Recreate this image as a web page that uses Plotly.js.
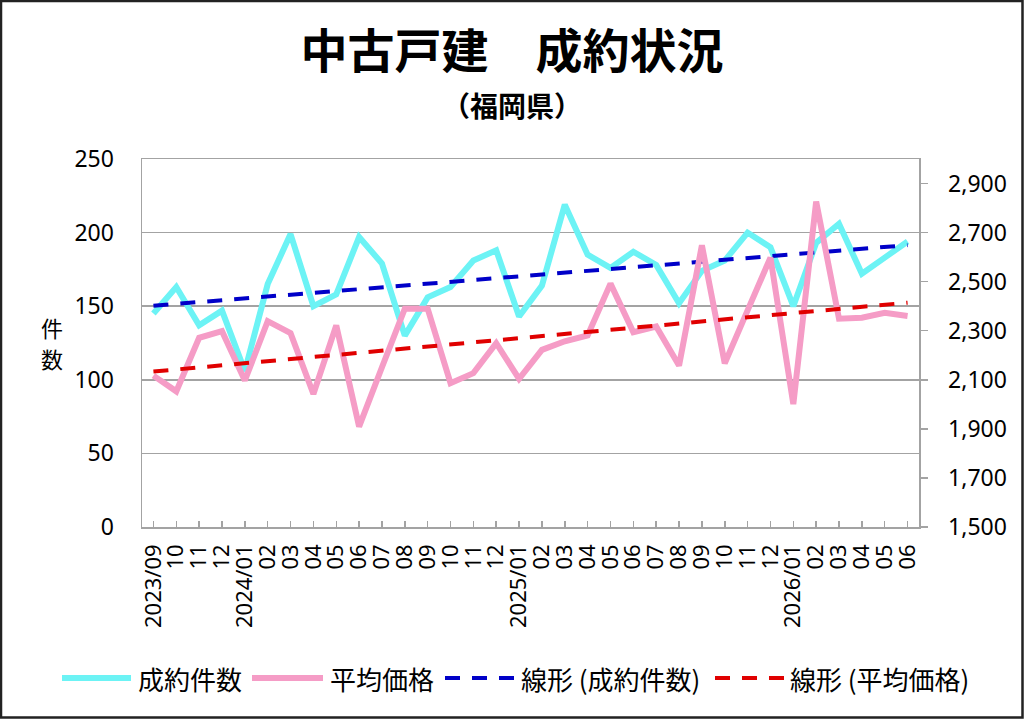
<!DOCTYPE html>
<html>
<head>
<meta charset="utf-8">
<script src="https://cdn.plot.ly/plotly-3.0.1.min.js"></script>
<style>
html,body{margin:0;padding:0;background:#fff;overflow:hidden;}
#chart{width:1024px;height:719px;}
</style>
</head>
<body>
<div id="chart"></div>
<script>
// ---- data ----
const monthLabels = ["2023/09","10","11","12","2024/01","02","03","04","05","06","07","08","09","10","11","12",
  "2025/01","02","03","04","05","06","07","08","09","10","11","12","2026/01","02","03","04","05","06"];
const contractCount = [145,163,137,147,106,165,199,150,158,197,179,130,156,163,181,188,143,
  164,219,185,176,187,178,152,174,181,200,190,150,193,206,172,183,194];
const avgPrice = [2117,2053,2271,2298,2097,2339,2290,2042,2322,1909,2151,2390,2390,2086,2127,2249,2104,
  2222,2257,2281,2492,2294,2317,2158,2648,2167,2383,2598,2001,2826,2349,2353,2373,2360];
const seriesNames = ["成約件数","平均価格","線形 (成約件数)","線形 (平均価格)"];
const leftTicks = [0,50,100,150,200,250];
const rightTicks = [1500,1700,1900,2100,2300,2500,2700,2900];

// ---- helpers ----
const idx = monthLabels.map((_, i) => i);
function linearFit(ys){
  const n = ys.length;
  const xs = ys.map((_, i) => i);
  const mx = xs.reduce((a,b)=>a+b,0)/n;
  const my = ys.reduce((a,b)=>a+b,0)/n;
  let sxy = 0, sxx = 0;
  for (let i=0;i<n;i++){ sxy += (xs[i]-mx)*(ys[i]-my); sxx += (xs[i]-mx)*(xs[i]-mx); }
  const b = sxy/sxx, a = my - b*mx;
  return xs.map(x => a + b*x);
}
const countTrend = linearFit(contractCount);
const priceTrend = linearFit(avgPrice);

const W = 1024, H = 719, ML = 142, MR = 105, MT = 159, MB = 192;
const PW = W-ML-MR, PH = H-MT-MB;
const px = x => (x-ML)/PW;
const py = y => (H-MB-y)/PH;

const LAT = "'Noto Sans', 'Noto Sans CJK JP', sans-serif";
const CJK = "'Noto Sans CJK JP', 'Noto Sans', sans-serif";
const GRID = '#a3a3a3';
const C_CYAN = '#6cf3f5', C_PINK = '#f59cc6', C_BLUE = '#0000c8', C_RED = '#e00000';

const traces = [
  {x: idx, y: contractCount, type:'scatter', mode:'lines', name: seriesNames[0],
   line:{color:C_CYAN, width:6}, yaxis:'y'},
  {x: idx, y: countTrend, type:'scatter', mode:'lines', name: seriesNames[2],
   line:{color:C_BLUE, width:4, dash:'15px,12px'}, yaxis:'y'},
  {x: idx, y: avgPrice, type:'scatter', mode:'lines', name: seriesNames[1],
   line:{color:C_PINK, width:6}, yaxis:'y2'},
  {x: idx, y: priceTrend, type:'scatter', mode:'lines', name: seriesNames[3],
   line:{color:C_RED, width:4, dash:'15px,12px'}, yaxis:'y2'}
];

// custom legend
const legendY = py(678);
const legendItems = [
  {x0:62, x1:131, tx:136, color:C_CYAN, dash:'solid', w:6, text:seriesNames[0]},
  {x0:252, x1:323, tx:328, color:C_PINK, dash:'solid', w:6, text:seriesNames[1]},
  {x0:445, x1:515, tx:519, color:C_BLUE, dash:'15px,12px', w:4, text:seriesNames[2]},
  {x0:715, x1:785, tx:788, color:C_RED, dash:'15px,12px', w:4, text:seriesNames[3]}
];
const shapes = legendItems.map(it => ({
  type:'line', xref:'paper', yref:'paper', x0:px(it.x0), x1:px(it.x1), y0:legendY, y1:legendY,
  line:{color:it.color, width:it.w, dash:it.dash}
}));
// outer frame
shapes.push({type:'rect', xref:'paper', yref:'paper', x0:px(1), x1:px(1022.5), y0:py(717.5), y1:py(1),
  line:{color:'#222', width:2.5}, fillcolor:'rgba(0,0,0,0)', layer:'above'});

const annotations = legendItems.map(it => ({
  xref:'paper', yref:'paper', x:px(it.tx), y:legendY, xanchor:'left', yanchor:'middle',
  text: it.text, showarrow:false, font:{family:CJK, size:26, color:'#000'}
}));
annotations.push({xref:'paper', yref:'paper', x:px(512), y:py(105), xanchor:'center', yanchor:'middle',
  text:'<b>（福岡県）</b>', showarrow:false, font:{family:CJK, size:28, color:'#000'}});
annotations.push({xref:'paper', yref:'paper', x:px(52), y:py(327), xanchor:'center', yanchor:'middle',
  text:'件', showarrow:false, borderpad:0, font:{family:CJK, size:22, color:'#000'}});
annotations.push({xref:'paper', yref:'paper', x:px(52), y:py(358), xanchor:'center', yanchor:'middle',
  text:'数', showarrow:false, borderpad:0, font:{family:CJK, size:22, color:'#000'}});

const layout = {
  width:W, height:H,
  margin:{l:ML, r:MR, t:MT, b:MB, pad:0},
  paper_bgcolor:'#fff', plot_bgcolor:'#fff',
  showlegend:false,
  title:{text:'<b>中古戸建\u2002\u2002成約状況</b>', x:0.5, xref:'container', xanchor:'center',
         y:1-52/H, yref:'container', yanchor:'middle',
         font:{family:CJK, size:47, color:'#000'}},
  xaxis:{range:[-0.5, 33.5], tickmode:'array', tickvals: idx, ticktext: monthLabels,
         tickangle:-90, ticks:'inside', ticklen:6, tickcolor:GRID, tickwidth:1.5,
         showline:true, linecolor:GRID, linewidth:1.5, mirror:true,
         showgrid:false, zeroline:false, ticklabelstandoff:7,
         tickfont:{family:LAT, size:22, color:'#000'}, fixedrange:true},
  yaxis:{range:[0,250], tickmode:'array', tickvals:leftTicks,
         showgrid:true, gridcolor:GRID, gridwidth:1.5, zeroline:false,
         showline:true, linecolor:GRID, linewidth:1.5, ticks:'',
         ticklabelstandoff:22, tickfont:{family:LAT, size:23, color:'#000'}},
  yaxis2:{range:[1500,3000], overlaying:'y', side:'right', tickmode:'array', tickvals:rightTicks,
         tickformat:',d', showgrid:false, zeroline:false,
         showline:true, linecolor:GRID, linewidth:1.5, ticks:'outside', ticklen:7, tickcolor:GRID, tickwidth:1.5,
         ticklabelstandoff:16, tickfont:{family:LAT, size:23, color:'#000'}},
  shapes: shapes,
  annotations: annotations
};

Plotly.newPlot('chart', traces, layout, {staticPlot:true, displayModeBar:false});
</script>
</body>
</html>
